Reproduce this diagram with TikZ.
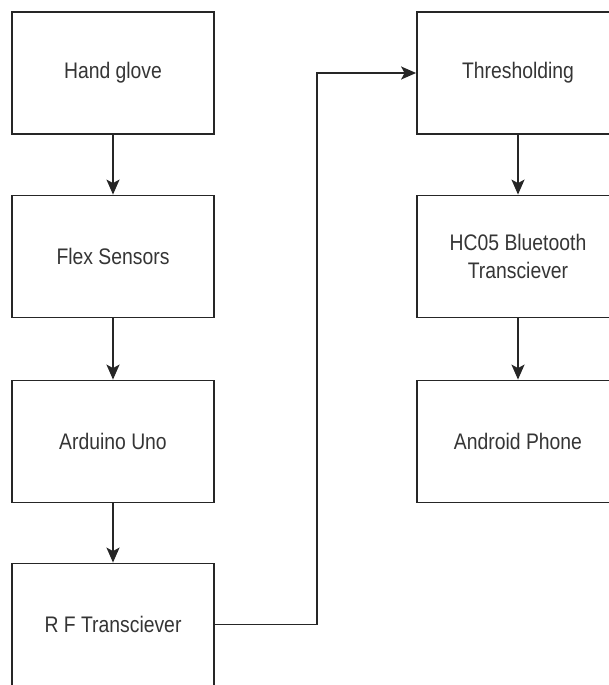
\documentclass[tikz,border=0pt]{standalone}
\usepackage{fontspec}
\setmainfont{Liberation Sans}[FakeStretch=0.86]
\usetikzlibrary{arrows.meta}

\definecolor{boxline}{HTML}{262626}
\definecolor{boxtext}{HTML}{353535}

\tikzset{
  block/.style={draw=boxline, line width=1.8pt, fill=white, minimum width=202pt,
    minimum height=122pt, align=center, text=boxtext,
    font=\fontsize{22.5}{28}\selectfont},
  flow/.style={draw=boxline, line width=1.8pt,
    -{Stealth[length=15pt, width=13pt, inset=3.5pt]}}
}

\begin{document}
\begin{tikzpicture}[x=1pt, y=1pt]

  \useasboundingbox (0,0) rectangle (609,-685);
  \clip (0,0) rectangle (609,-685);

  % left column
  \node[block] (glove) at (113,-73) {Hand glove};
  \node[block] (flex) at (113,-256.5) {Flex Sensors};
  \node[block] (uno) at (113,-441.5) {Arduino Uno};
  \node[block] (rf) at (113,-624.5) {R F Transciever};

  % right column
  \node[block] (thresh) at (518,-73) {Thresholding};
  \node[block] (hc) at (518,-256.5) {HC05 Bluetooth\\Transciever};
  \node[block] (phone) at (518,-441.5) {Android Phone};

  \draw[flow] (glove) -- (flex);
  \draw[flow] (flex) -- (uno);
  \draw[flow] (uno) -- (rf);
  \draw[flow] (rf.east) -- ++(102,0) |- (thresh.west);
  \draw[flow] (thresh) -- (hc);
  \draw[flow] (hc) -- (phone);

\end{tikzpicture}
\end{document}
